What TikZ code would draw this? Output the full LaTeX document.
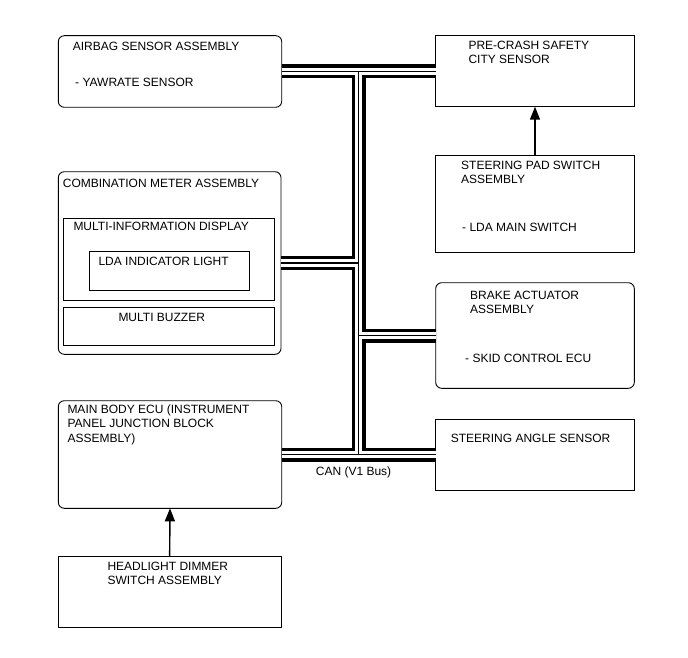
\documentclass[tikz,border=0pt]{standalone}
\usepackage{fontspec}
\setmainfont{Liberation Sans}
\usetikzlibrary{arrows.meta}
\tikzset{
  box/.style={draw, line width=0.9pt, rectangle, anchor=north west, inner sep=0pt, outer sep=0pt},
  rbox/.style={box, rounded corners=6pt},
  txt/.style={anchor=base west, inner sep=0pt, align=left, font=\fontsize{12}{14.3}\selectfont},
  sig/.style={line width=1.4pt, -{Triangle[length=13pt,width=10pt]}}
}
\begin{document}
\begin{tikzpicture}[x=1pt,y=-1pt]
\useasboundingbox (0,0) rectangle (688,658);
% units
\node [rbox, minimum width=223.4pt, minimum height=71.6pt] (airbag) at (58.3,35.7) {};
\node [box, minimum width=198.6pt, minimum height=71pt] (precrash) at (435.7,35.7) {};
\node [box, minimum width=198.6pt, minimum height=96.6pt] (padsw) at (435.7,155.7) {};
\node [rbox, minimum width=222.7pt, minimum height=182.6pt] (combo) at (58.3,171.7) {};
\node [box, minimum width=211pt, minimum height=82.4pt] (mid) at (63.3,218.3) {};
\node [box, minimum width=159.7pt, minimum height=39pt] (ldalamp) at (89.3,251.7) {};
\node [box, minimum width=211pt, minimum height=38pt] (buzzer) at (63.3,307.7) {};
\node [rbox, minimum width=198.6pt, minimum height=105.6pt] (brake) at (435.7,282.7) {};
\node [rbox, minimum width=223.4pt, minimum height=107.6pt] (ecu) at (58.3,400.7) {};
\node [box, minimum width=198.6pt, minimum height=71pt] (angle) at (435.7,419) {};
\node [box, minimum width=222.7pt, minimum height=70.6pt] (dimmer) at (58.3,556.7) {};
% labels (base of last line)
\node [txt] (airbagT) at (72.7,50.3) {AIRBAG SENSOR ASSEMBLY};
\node [txt] (airbagS) at (75,86.9) {- YAWRATE SENSOR};
\node [txt] (precrashT) at (468.3,63.6) {PRE-CRASH SAFETY\\CITY SENSOR};
\node [txt] (padswT) at (461,183.9) {STEERING PAD SWITCH\\ASSEMBLY};
\node [txt] (padswS) at (462,231.9) {- LDA MAIN SWITCH};
\node [txt] (comboT) at (62.7,187.6) {COMBINATION METER ASSEMBLY};
\node [txt] (midT) at (73.3,230.9) {MULTI-INFORMATION DISPLAY};
\node [txt] (ldalampT) at (98.3,265.3) {LDA INDICATOR LIGHT};
\node [txt] (buzzerT) at (118.3,321.9) {MULTI BUZZER};
\node [txt] (brakeT) at (470,313.6) {BRAKE ACTUATOR\\ASSEMBLY};
\node [txt] (brakeS) at (465,362.6) {- SKID CONTROL ECU};
\node [txt] (ecuT) at (67.3,442.2) {MAIN BODY ECU (INSTRUMENT\\PANEL JUNCTION BLOCK\\ASSEMBLY)};
\node [txt] (angleT) at (450.7,442.6) {STEERING ANGLE SENSOR};
\node [txt] (dimmerT) at (107.3,584.6) {HEADLIGHT DIMMER\\SWITCH ASSEMBLY};
\node [txt] (canT) at (315.7,475.3) {CAN (V1 Bus)};
% CAN bus
\coordinate (bustop) at (358.5,71.5);
\foreach \w/\c in {14pt/black, 7.3pt/white, 1.3pt/black}
  \draw [line width=\w, draw=\c]
    (airbag.east) -- (airbag.east -| precrash.west)
    (bustop) -- (bustop |- ecu.east)
    (combo.east) -- (combo.east -| bustop)
    (brake.west) -- (brake.west -| bustop)
    (ecu.east) -- (angle.west);
% switches
\draw [sig] (padsw.north) -- (precrash.south);
\draw [sig] (dimmer.north) -- (ecu.south);
\end{tikzpicture}
\end{document}
